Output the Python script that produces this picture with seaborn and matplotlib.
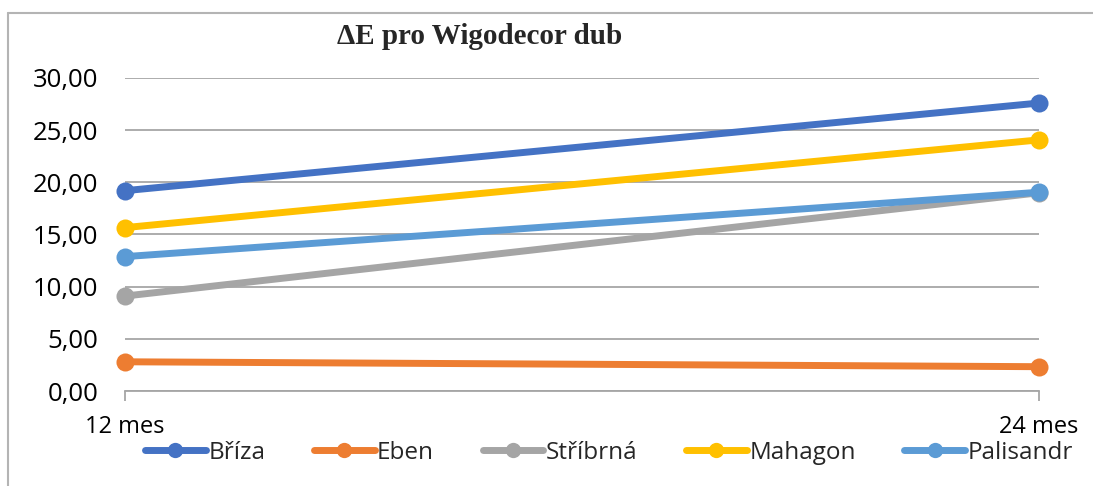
import matplotlib
matplotlib.use("Agg")
import matplotlib.pyplot as plt
import seaborn as sns
import pandas as pd
from matplotlib.ticker import FuncFormatter
from matplotlib.lines import Line2D

periods = ["12 mes", "24 mes"]
series_names = ["Bříza", "Eben", "Stříbrná", "Mahagon", "Palisandr"]
briza = [19.2, 27.6]
eben = [2.8, 2.33]
stribrna = [9.1, 19.0]
mahagon = [15.66, 24.07]
palisandr = [12.88, 19.05]
colors = ["#4472C4", "#ED7D31", "#A5A5A5", "#FFC000", "#5B9BD5"]
title = "ΔE pro Wigodecor dub"

values = [briza, eben, stribrna, mahagon, palisandr]
rows = []
for name, vals in zip(series_names, values):
    for i, (p, v) in enumerate(zip(periods, vals)):
        rows.append({"period": p, "x": i, "value": v, "series": name})
df = pd.DataFrame(rows)

sns.set_theme(style="white")
plt.rcParams["font.family"] = ["Open Sans", "DejaVu Sans"]

fig = plt.figure(figsize=(10.93, 4.86), dpi=100)
ax = fig.add_axes([125/1093, 1 - 391/486, (1039 - 125)/1093, (391 - 78)/486])

sns.lineplot(data=df, x="x", y="value", hue="series", hue_order=series_names,
             palette=colors, marker="o", markersize=13, markeredgewidth=0,
             linewidth=5, ax=ax, legend=False, sort=False)
for ln in ax.lines:
    ln.set_clip_on(False)
    ln.set_solid_capstyle("round")

ax.set_xlim(0, 1)
ax.set_ylim(0, 30)
ax.set_yticks([0, 5, 10, 15, 20, 25, 30])
ax.yaxis.set_major_formatter(FuncFormatter(lambda v, p: f"{v:.2f}".replace(".", ",")))
ax.set_xticks([0, 1])
ax.set_xticklabels(periods)
ax.set_xlabel("")
ax.set_ylabel("")
ax.grid(axis="y", color="#a6a6a6", linewidth=1.3)
ax.set_axisbelow(True)
for s in ["top", "right", "left"]:
    ax.spines[s].set_visible(False)
ax.spines["bottom"].set_color("#a6a6a6")
ax.spines["bottom"].set_linewidth(1.3)
ax.tick_params(axis="y", labelsize=18.5, length=0, pad=19, colors="black")
ax.tick_params(axis="x", labelsize=17, length=7, width=1.3, color="#a6a6a6",
               direction="out", pad=10, labelcolor="black")
ax.tick_params(axis="x", bottom=True)

handles = [Line2D([0], [0], color=c, linewidth=5, marker="o", markersize=11,
                  markeredgewidth=0, solid_capstyle="round") for c in colors]
fig.legend(handles, series_names, loc="center", bbox_to_anchor=(609/1093, 1 - 453/486),
           ncol=5, frameon=False, fontsize=17.5, handlelength=2.5, handletextpad=0.1,
           columnspacing=2.0)

fig.text(480/1093, 1 - 37/486, title, ha="center", va="center",
         fontsize=21, fontweight="bold", family=["Liberation Serif", "DejaVu Serif"])

fig.add_artist(Line2D([8/1093, 8/1093], [0, 1 - 13/486], transform=fig.transFigure,
                      color="#b4b4b4", linewidth=1.5))
fig.add_artist(Line2D([8/1093, 1], [1 - 13/486, 1 - 13/486], transform=fig.transFigure,
                      color="#b4b4b4", linewidth=1.5))

fig.savefig("out.png", dpi=100)
